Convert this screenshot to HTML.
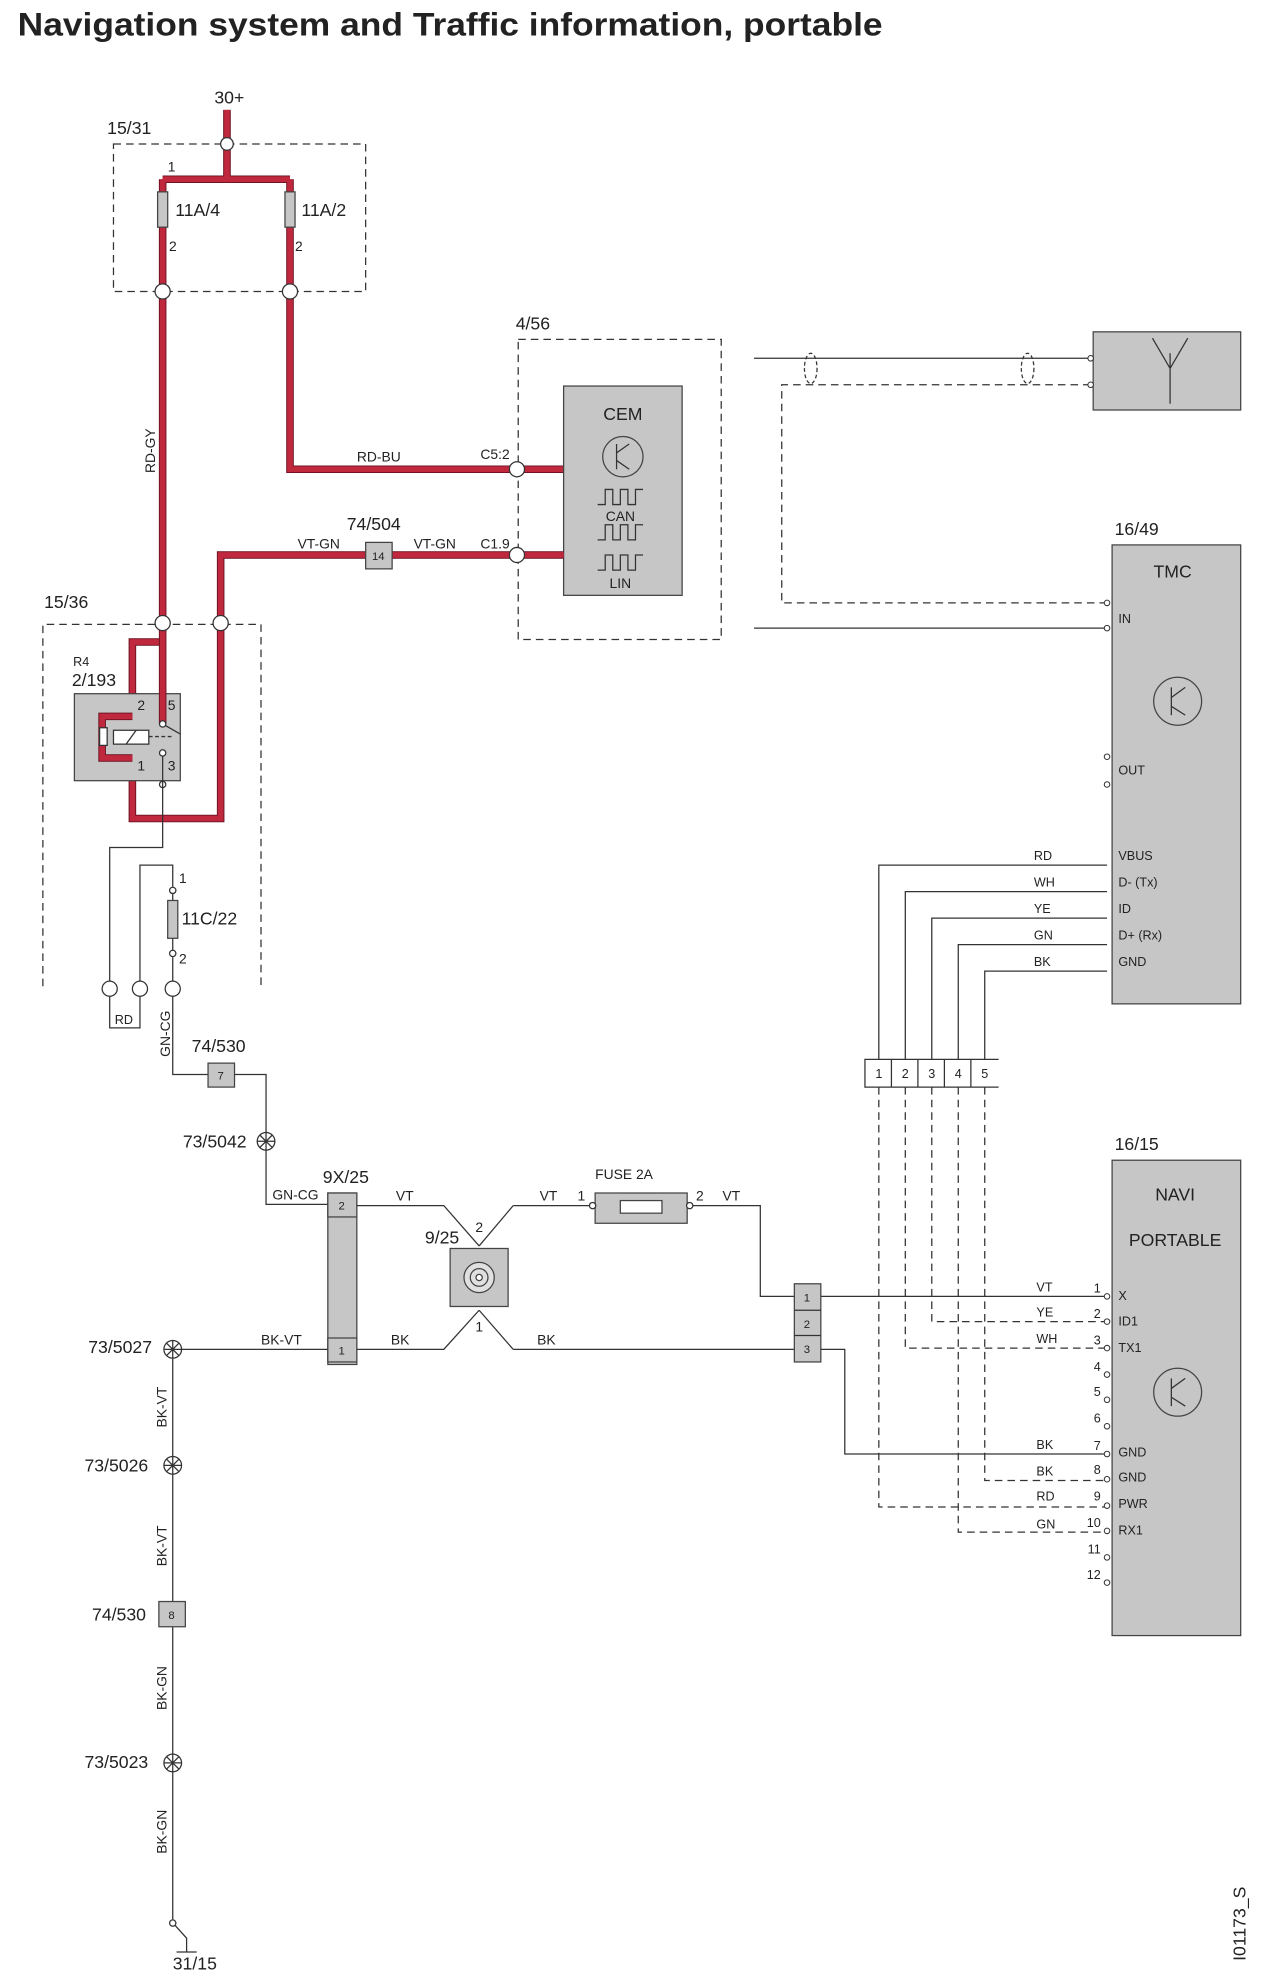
<!DOCTYPE html>
<html><head><meta charset="utf-8"><style>
html,body{margin:0;padding:0;background:#fff;}
svg{display:block}
text{font-family:"Liberation Sans",sans-serif;fill:#222}
.s{font-size:11px}
.m{font-size:14px}
.w{stroke:#333;stroke-width:1;fill:none}
.d{stroke:#333;stroke-width:1;fill:none;stroke-dasharray:6,4}
.r{stroke:#c0283e;stroke-width:4.5;fill:none}
.ro{stroke:#6a1020;stroke-width:6;fill:none}
.c{fill:#fff;stroke:#333;stroke-width:1}
.g{fill:#c6c6c6;stroke:#444;stroke-width:1}
</style></head><body>
<svg width="1276" height="1980" viewBox="0 0 1012 1570" xmlns="http://www.w3.org/2000/svg">
<text x="14" y="28" style="font-size:26px;font-weight:bold" textLength="686" lengthAdjust="spacingAndGlyphs">Navigation system and Traffic information, portable</text>

<!-- 15/31 fuse box -->
<text x="170" y="82" class="m">30+</text>
<text x="85" y="106" class="m">15/31</text>
<rect x="90" y="114" width="200" height="117" class="d"/>
<g>
<path class="ro" d="M180 87V142M129 142H230M129 142V494M230 142V372H447"/>
<path class="r" d="M180 87V142M129 142H230M129 142V494M230 142V372H447"/>
</g>
<circle cx="180" cy="114" r="5" class="c"/>
<rect x="125" y="152" width="8" height="28" class="g"/>
<rect x="226" y="152" width="8" height="28" class="g"/>
<text x="139" y="171" class="m">11A/4</text>
<text x="239" y="171" class="m">11A/2</text>
<text x="133" y="136" class="s">1</text>
<text x="134" y="199" class="s">2</text>
<text x="234" y="199" class="s">2</text>
<circle cx="129" cy="231" r="6" class="c"/>
<circle cx="230" cy="231" r="6" class="c"/>
<text transform="translate(123,375) rotate(-90)" class="s">RD-GY</text>
<text x="283" y="366" class="s">RD-BU</text>
<text x="381" y="364" class="s">C5:2</text>

<!-- CEM -->
<text x="409" y="261" class="m">4/56</text>
<rect x="411" y="269" width="161" height="238" class="d"/>
<rect x="447" y="306" width="94" height="166" class="g"/>
<text x="494" y="333" class="m" text-anchor="middle">CEM</text>
<circle cx="494" cy="362" r="16" fill="none" stroke="#444"/>
<path class="w" d="M489 352V372M489 359L499 352M489 365L499 372"/>
<path class="w" d="M474 400H480V388H486V400H492V388H498V400H504V388H510"/>
<path class="w" d="M474 428H480V416H486V428H492V416H498V428H504V416H510"/>
<path class="w" d="M474 452H480V440H486V452H492V440H498V452H504V440H510"/>
<text x="492" y="413" class="s" text-anchor="middle">CAN</text>
<text x="492" y="466" class="s" text-anchor="middle">LIN</text>

<!-- VT-GN -->
<path class="ro" d="M447 440H175V649H105V509H129"/>
<path class="r" d="M447 440H175V649H105V509H129"/>
<rect x="290" y="430" width="21" height="21" class="g"/>
<text x="300" y="444" style="font-size:9px" text-anchor="middle">14</text>
<text x="275" y="420" class="m">74/504</text>
<text x="236" y="435" class="s">VT-GN</text>
<text x="328" y="435" class="s">VT-GN</text>
<text x="381" y="435" class="s">C1.9</text>
<circle cx="410" cy="372" r="6" class="c"/>
<circle cx="410" cy="440" r="6" class="c"/>

<!-- 15/36 -->
<text x="35" y="482" class="m">15/36</text>
<path class="d" d="M34 782V495H207V782"/>
<text x="58" y="528" style="font-size:10px">R4</text>
<text x="57" y="544" class="m">2/193</text>
<rect x="59" y="550" width="84" height="69" class="g"/>
<path class="ro" d="M129 494V574M105 568H81V601H105"/>
<path class="r" d="M129 494V574M105 568H81V601H105"/>
<rect x="79" y="577" width="6" height="14" fill="#fff" stroke="#333"/>
<rect x="90" y="579" width="28" height="11" fill="#fff" stroke="#333"/>
<path class="w" d="M100 590L108 579"/>
<path class="w" d="M118 584H136" stroke-dasharray="3,2"/>
<path class="w" d="M129 574L143 582"/>
<circle cx="129" cy="574" r="2.5" class="c"/>
<circle cx="129" cy="597" r="2.5" class="c"/>
<circle cx="129" cy="622" r="2.5" class="c"/>
<text x="109" y="563" class="s">2</text>
<text x="133" y="563" class="s">5</text>
<text x="109" y="611" class="s">1</text>
<text x="133" y="611" class="s">3</text>
<circle cx="129" cy="494" r="6" class="c"/>
<circle cx="175" cy="494" r="6" class="c"/>
<path class="w" d="M129 599V672H87V815H111V686H137V703M137 708V714M137 744V754M137 759V852H165"/>
<rect x="133" y="714" width="8" height="30" class="g"/>
<circle cx="137" cy="706" r="2.5" class="c"/>
<circle cx="137" cy="756" r="2.5" class="c"/>
<text x="142" y="700" class="s">1</text>
<text x="142" y="764" class="s">2</text>
<text x="144" y="733" class="m">11C/22</text>
<circle cx="87" cy="784" r="6" class="c"/>
<circle cx="111" cy="784" r="6" class="c"/>
<circle cx="137" cy="784" r="6" class="c"/>
<text x="91" y="812" style="font-size:10px">RD</text>
<text transform="translate(135,838) rotate(-90)" class="s">GN-CG</text>
<text x="152" y="834" class="m">74/530</text>
<rect x="165" y="843" width="21" height="19" class="g"/>
<text x="175" y="856" style="font-size:9px" text-anchor="middle">7</text>
<path class="w" d="M186 852H211V955H260"/>
<g class="w"><circle cx="211" cy="905" r="7" fill="#fff"/><path d="M204 905H218M211 898V912M206 900L216 910M216 900L206 910"/></g>
<text x="145" y="910" class="m">73/5042</text>

<!-- 9X/25 -->
<text x="256" y="938" class="m">9X/25</text>
<text x="216" y="951" class="s">GN-CG</text>
<rect x="260" y="946" width="23" height="136" class="g"/>
<rect x="260" y="946" width="23" height="19" class="g"/>
<rect x="260" y="1061" width="23" height="19" class="g"/>
<text x="271" y="959" style="font-size:9px" text-anchor="middle">2</text>
<text x="271" y="1074" style="font-size:9px" text-anchor="middle">1</text>
<path class="w" d="M283 956H352L380 988M407 956L380 988M407 956H469M283 1070H352L380 1039M407 1070L380 1039M407 1070H630M545 956H603V1028H630"/>
<text x="314" y="952" class="s">VT</text>
<text x="428" y="952" class="s">VT</text>
<text x="573" y="952" class="s">VT</text>
<text x="310" y="1066" class="s">BK</text>
<text x="426" y="1066" class="s">BK</text>
<text x="377" y="977" class="s">2</text>
<text x="377" y="1056" class="s">1</text>
<text x="337" y="986" class="m">9/25</text>
<rect x="357" y="990" width="46" height="46" class="g"/>
<circle cx="380" cy="1013" r="12" fill="#e0e0e0" stroke="#444"/>
<circle cx="380" cy="1013" r="7" fill="#e0e0e0" stroke="#444"/>
<circle cx="380" cy="1013" r="2.5" fill="#fff" stroke="#444"/>
<text x="472" y="935" class="s">FUSE 2A</text>
<rect x="472" y="946" width="73" height="24" class="g"/>
<rect x="492" y="952" width="33" height="10" fill="#fff" stroke="#444"/>
<text x="458" y="952" class="s">1</text>
<text x="552" y="952" class="s">2</text>
<circle cx="470" cy="956" r="2.5" class="c"/>
<circle cx="547" cy="956" r="2.5" class="c"/>

<rect x="630" y="1018" width="21" height="62" class="g"/>
<path class="w" d="M630 1039H651M630 1059H651"/>
<text x="640" y="1032" style="font-size:9px" text-anchor="middle">1</text>
<text x="640" y="1053" style="font-size:9px" text-anchor="middle">2</text>
<text x="640" y="1073" style="font-size:9px" text-anchor="middle">3</text>
<path class="w" d="M651 1028H878M651 1070H670V1153H878"/>

<!-- left ground chain -->
<text x="207" y="1066" class="s">BK-VT</text>
<path class="w" d="M137 1070H260M137 1070V1270M137 1290V1522"/>
<g class="w"><circle cx="137" cy="1070" r="7" fill="#fff"/><path d="M130 1070H144M137 1063V1077M132 1065L142 1075M142 1065L132 1075"/></g>
<g class="w"><circle cx="137" cy="1162" r="7" fill="#fff"/><path d="M130 1162H144M137 1155V1169M132 1157L142 1167M142 1157L132 1167"/></g>
<g class="w"><circle cx="137" cy="1398" r="7" fill="#fff"/><path d="M130 1398H144M137 1391V1405M132 1393L142 1403M142 1393L132 1403"/></g>
<rect x="126" y="1270" width="21" height="20" class="g"/>
<text x="136" y="1284" style="font-size:9px" text-anchor="middle">8</text>
<text x="70" y="1073" class="m">73/5027</text>
<text x="67" y="1167" class="m">73/5026</text>
<text x="73" y="1285" class="m">74/530</text>
<text x="67" y="1402" class="m">73/5023</text>
<text transform="translate(132,1132) rotate(-90)" class="s">BK-VT</text>
<text transform="translate(132,1242) rotate(-90)" class="s">BK-VT</text>
<text transform="translate(132,1356) rotate(-90)" class="s">BK-GN</text>
<text transform="translate(132,1470) rotate(-90)" class="s">BK-GN</text>
<circle cx="137" cy="1525" r="2.5" class="c"/>
<path class="w" d="M139 1527L148 1537V1548M140 1548H156"/>
<text x="137" y="1562" class="m">31/15</text>
<text transform="translate(988,1555) rotate(-90)" class="m">I01173_S</text>

<!-- antenna -->
<rect x="867" y="263" width="117" height="62" class="g"/>
<path class="w" d="M928 280V320M914 268L928 292L942 268" stroke-width="2"/>
<path class="w" d="M598 284H865"/>
<path class="d" d="M865 305H620V478H878"/>
<path class="w" d="M598 498H878"/>
<ellipse cx="643" cy="292" rx="5" ry="12" class="d" style="stroke-dasharray:3,2"/>
<ellipse cx="815" cy="292" rx="5" ry="12" class="d" style="stroke-dasharray:3,2"/>

<!-- TMC -->
<text x="884" y="424" class="m">16/49</text>
<rect x="882" y="432" width="102" height="364" class="g"/>
<text x="930" y="458" class="m" text-anchor="middle">TMC</text>
<circle cx="934" cy="556" r="19" fill="none" stroke="#444"/>
<path class="w" d="M929 545V567M929 553L940 545M929 560L940 567"/>
<text x="887" y="494" style="font-size:10px">IN</text>
<text x="887" y="614" style="font-size:10px">OUT</text>
<text x="887" y="682" style="font-size:10px">VBUS</text>
<text x="887" y="703" style="font-size:10px">D- (Tx)</text>
<text x="887" y="724" style="font-size:10px">ID</text>
<text x="887" y="745" style="font-size:10px">D+ (Rx)</text>
<text x="887" y="766" style="font-size:10px">GND</text>
<path class="w" d="M697 840V686H878M718 840V707H878M739 840V728H878M760 840V749H878M781 840V770H878"/>
<text x="820" y="682" style="font-size:10px">RD</text>
<text x="820" y="703" style="font-size:10px">WH</text>
<text x="820" y="724" style="font-size:10px">YE</text>
<text x="820" y="745" style="font-size:10px">GN</text>
<text x="820" y="766" style="font-size:10px">BK</text>
<path class="w" d="M792 840H686V862H792M707 840V862M728 840V862M749 840V862M770 840V862"/>
<text x="697" y="855" style="font-size:10px" text-anchor="middle">1</text>
<text x="718" y="855" style="font-size:10px" text-anchor="middle">2</text>
<text x="739" y="855" style="font-size:10px" text-anchor="middle">3</text>
<text x="760" y="855" style="font-size:10px" text-anchor="middle">4</text>
<text x="781" y="855" style="font-size:10px" text-anchor="middle">5</text>
<path class="d" d="M697 862V1195H878M718 862V1069H878M739 862V1048H878M760 862V1215H878M781 862V1174H878"/>

<!-- NAVI -->
<text x="884" y="912" class="m">16/15</text>
<rect x="882" y="920" width="102" height="377" class="g"/>
<text x="932" y="952" class="m" text-anchor="middle">NAVI</text>
<text x="932" y="988" class="m" text-anchor="middle">PORTABLE</text>
<circle cx="934" cy="1104" r="19" fill="none" stroke="#444"/>
<path class="w" d="M929 1093V1115M929 1101L940 1093M929 1108L940 1115"/>
<g style="font-size:10px">
<text x="873" y="1025" text-anchor="end">1</text><text x="873" y="1045" text-anchor="end">2</text>
<text x="873" y="1066" text-anchor="end">3</text><text x="873" y="1087" text-anchor="end">4</text>
<text x="873" y="1107" text-anchor="end">5</text><text x="873" y="1128" text-anchor="end">6</text>
<text x="873" y="1150" text-anchor="end">7</text><text x="873" y="1169" text-anchor="end">8</text>
<text x="873" y="1190" text-anchor="end">9</text><text x="873" y="1211" text-anchor="end">10</text>
<text x="873" y="1232" text-anchor="end">11</text><text x="873" y="1252" text-anchor="end">12</text>
<text x="887" y="1031">X</text><text x="887" y="1051">ID1</text><text x="887" y="1072">TX1</text>
<text x="887" y="1155">GND</text><text x="887" y="1175">GND</text><text x="887" y="1196">PWR</text><text x="887" y="1217">RX1</text>
<text x="822" y="1024">VT</text><text x="822" y="1044">YE</text><text x="822" y="1065">WH</text>
<text x="822" y="1149">BK</text><text x="822" y="1170">BK</text><text x="822" y="1190">RD</text><text x="822" y="1212">GN</text>
</g>
<g fill="#fff" stroke="#333" stroke-width="0.8">
<circle cx="878" cy="1028" r="2.2"/><circle cx="878" cy="1048" r="2.2"/><circle cx="878" cy="1069" r="2.2"/>
<circle cx="878" cy="1090" r="2.2"/><circle cx="878" cy="1110" r="2.2"/><circle cx="878" cy="1131" r="2.2"/>
<circle cx="878" cy="1153" r="2.2"/><circle cx="878" cy="1173" r="2.2"/><circle cx="878" cy="1194" r="2.2"/>
<circle cx="878" cy="1214" r="2.2"/><circle cx="878" cy="1235" r="2.2"/><circle cx="878" cy="1255" r="2.2"/>
<circle cx="878" cy="478" r="2.2"/><circle cx="878" cy="498" r="2.2"/>
<circle cx="878" cy="600" r="2.2"/><circle cx="878" cy="622" r="2.2"/>
<circle cx="865" cy="284" r="2.2"/><circle cx="865" cy="305" r="2.2"/>
</g>
</svg>
</body></html>
